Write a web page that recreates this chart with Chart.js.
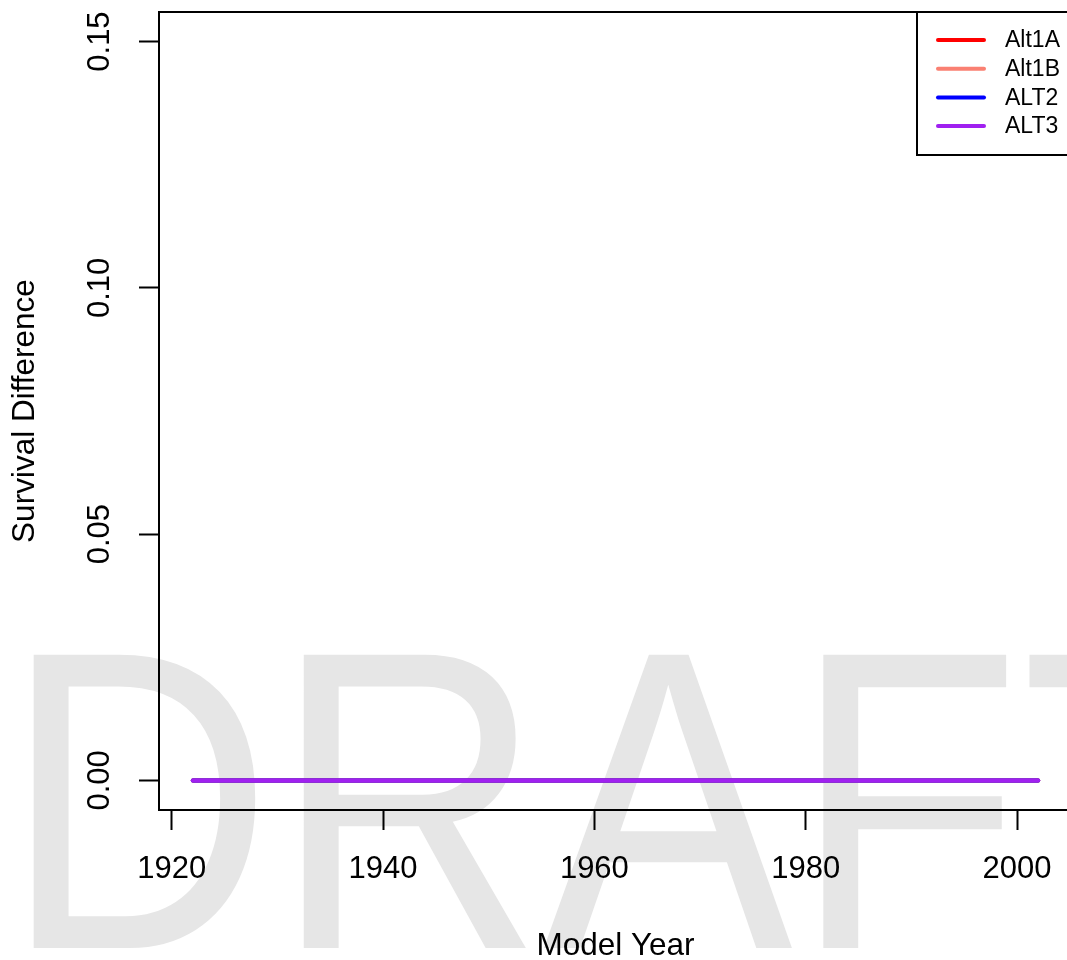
<!DOCTYPE html>
<html>
<head>
<meta charset="utf-8">
<script src="https://cdn.jsdelivr.net/npm/chart.js@4/dist/chart.umd.min.js"></script>
<style>
  html, body { margin: 0; padding: 0; background: #fff; overflow: hidden; }
  #wrap { width: 1067px; height: 960px; overflow: hidden; position: relative; }
  canvas { display: block; }
</style>
</head>
<body>
<div id="wrap"><canvas id="c" width="1100" height="960" style="width:1100px;height:960px"></canvas></div>
<script>
// ---- data ----
const years = [1922,1923,1924,1925,1926,1927,1928,1929,1930,1931,1932,1933,1934,1935,1936,1937,1938,1939,1940,1941,
  1942,1943,1944,1945,1946,1947,1948,1949,1950,1951,1952,1953,1954,1955,1956,1957,1958,1959,1960,1961,
  1962,1963,1964,1965,1966,1967,1968,1969,1970,1971,1972,1973,1974,1975,1976,1977,1978,1979,1980,1981,
  1982,1983,1984,1985,1986,1987,1988,1989,1990,1991,1992,1993,1994,1995,1996,1997,1998,1999,2000,2001,2002];
const alt1A = [0,0,0,0,0,0,0,0,0,0,0,0,0,0,0,0,0,0,0,0,0,0,0,0,0,0,0,0,0,0,0,0,0,0,0,0,0,0,0,0,0,0,0,0,0,0,0,0,0,0,0,0,0,0,0,0,0,0,0,0,0,0,0,0,0,0,0,0,0,0,0,0,0,0,0,0,0,0,0,0,0];
const alt1B = [0,0,0,0,0,0,0,0,0,0,0,0,0,0,0,0,0,0,0,0,0,0,0,0,0,0,0,0,0,0,0,0,0,0,0,0,0,0,0,0,0,0,0,0,0,0,0,0,0,0,0,0,0,0,0,0,0,0,0,0,0,0,0,0,0,0,0,0,0,0,0,0,0,0,0,0,0,0,0,0,0];
const alt2  = [0,0,0,0,0,0,0,0,0,0,0,0,0,0,0,0,0,0,0,0,0,0,0,0,0,0,0,0,0,0,0,0,0,0,0,0,0,0,0,0,0,0,0,0,0,0,0,0,0,0,0,0,0,0,0,0,0,0,0,0,0,0,0,0,0,0,0,0,0,0,0,0,0,0,0,0,0,0,0,0,0];
const alt3  = [0,0,0,0,0,0,0,0,0,0,0,0,0,0,0,0,0,0,0,0,0,0,0,0,0,0,0,0,0,0,0,0,0,0,0,0,0,0,0,0,0,0,0,0,0,0,0,0,0,0,0,0,0,0,0,0,0,0,0,0,0,0,0,0,0,0,0,0,0,0,0,0,0,0,0,0,0,0,0,0,0];
const seriesNames = ["Alt1A", "Alt1B", "ALT2", "ALT3"];
const seriesColors = ["#FF0000", "#FA8072", "#0000FF", "#A020F0"];
const xTicks = [1920, 1940, 1960, 1980, 2000];
const yTicks = [0, 0.05, 0.10, 0.15];
const yTickLabels = ["0.00", "0.05", "0.10", "0.15"];
const xTitle = "Model Year";
const yTitle = "Survival Difference";
const watermark = "DRAFT";

const FONT = "'Liberation Sans', Arial, Helvetica, sans-serif";
Chart.defaults.font.family = FONT;
Chart.defaults.color = "#000";

function pts(vals) { return years.map((y, i) => ({x: y, y: vals[i]})); }
const allVals = [alt1A, alt1B, alt2, alt3];

const bgPlugin = {
  id: 'bgWatermark',
  beforeDraw(chart) {
    const ctx = chart.ctx;
    ctx.save();
    ctx.fillStyle = '#fff';
    ctx.fillRect(0, 0, chart.width, chart.height);
    ctx.fillStyle = '#E6E6E6';
    ctx.font = '374px ' + FONT;
    ctx.textBaseline = 'alphabetic';
    ctx.textAlign = 'left';
    ctx.translate(3, 948);
    ctx.scale(1, 1.14);
    ctx.fillText(watermark, 0, 0);
    ctx.restore();
  }
};

const boxLegendPlugin = {
  id: 'boxLegend',
  afterDraw(chart) {
    const ctx = chart.ctx;
    const a = chart.chartArea;
    ctx.save();
    ctx.strokeStyle = '#000';
    ctx.lineWidth = 2;
    ctx.strokeRect(a.left, a.top, a.right - a.left, a.bottom - a.top);
    // legend (top right, R style)
    const bx = a.right - 155, by = a.top, bw = 155, bh = 143;
    ctx.fillStyle = '#fff';
    ctx.fillRect(bx, by, bw, bh);
    ctx.strokeRect(bx, by, bw, bh);
    ctx.font = '23px ' + FONT;
    ctx.textBaseline = 'middle';
    ctx.textAlign = 'left';
    chart.data.datasets.forEach((ds, i) => {
      const yy = by + 28 + i * 28.7;
      ctx.strokeStyle = ds.borderColor;
      ctx.lineWidth = 4;
      ctx.lineCap = 'round';
      ctx.beginPath();
      ctx.moveTo(bx + 21, yy);
      ctx.lineTo(bx + 67, yy);
      ctx.stroke();
      ctx.fillStyle = '#000';
      ctx.fillText(ds.label, bx + 88, yy + 1);
    });
    ctx.restore();
  }
};

new Chart(document.getElementById('c'), {
  type: 'line',
  data: {
    datasets: seriesNames.map((n, i) => ({
      label: n,
      data: pts(allVals[i]),
      borderColor: seriesColors[i],
      backgroundColor: seriesColors[i],
      borderWidth: 4,
      borderCapStyle: 'round',
      pointRadius: 0,
      fill: false,
      tension: 0,
      order: seriesNames.length - i
    }))
  },
  options: {
    responsive: false,
    animation: false,
    devicePixelRatio: 1,
    layout: { padding: { top: 12, right: 28, bottom: 0, left: 0 } },
    plugins: { legend: { display: false }, tooltip: { enabled: false } },
    scales: {
      x: {
        type: 'linear',
        min: 1918.8,
        max: 2005.2,
        afterBuildTicks(s) { s.ticks = xTicks.map(v => ({value: v})); },
        afterFit(s) { s.height = 150; s.paddingLeft = 0; s.paddingRight = 0; },
        ticks: {
          callback: (v) => String(v),
          font: { size: 31 },
          color: '#000',
          padding: 21,
          maxRotation: 0,
          autoSkip: false
        },
        grid: { display: true, drawOnChartArea: false, drawTicks: true, tickLength: 20, tickColor: '#000', tickWidth: 2 },
        border: { display: false },
        title: { display: true, text: xTitle, font: { size: 31.5, lineHeight: 0.85 }, color: '#000', padding: { top: 0, bottom: 0 } }
      },
      y: {
        type: 'linear',
        min: -0.006,
        max: 0.156,
        afterBuildTicks(s) { s.ticks = yTicks.map(v => ({value: v})); },
        afterFit(s) { s.width = 159; s.paddingTop = 0; s.paddingBottom = 0; },
        ticks: {
          callback: (v) => yTickLabels[yTicks.findIndex(t => Math.abs(t - v) < 1e-9)],
          font: { size: 31 },
          color: '#000',
          padding: 8,
          minRotation: 90,
          maxRotation: 90,
          crossAlign: 'center',
          autoSkip: false
        },
        grid: { display: true, drawOnChartArea: false, drawTicks: true, tickLength: 20, tickColor: '#000', tickWidth: 2 },
        border: { display: false },
        title: { display: true, text: yTitle, font: { size: 31.5, lineHeight: 1 }, color: '#000', padding: { top: 10, bottom: 0 } }
      }
    }
  },
  plugins: [bgPlugin, boxLegendPlugin]
});
</script>
</body>
</html>
